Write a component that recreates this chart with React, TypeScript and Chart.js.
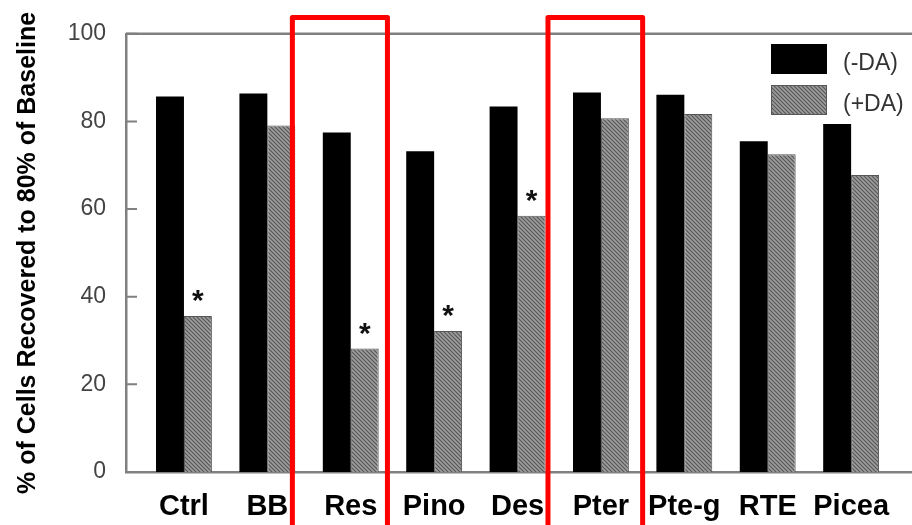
import React, { useEffect, useRef } from 'react';
import { Chart, registerables } from 'chart.js';

Chart.register(...registerables);

const categories = ['Ctrl', 'BB', 'Res', 'Pino', 'Des', 'Pter', 'Pte-g', 'RTE', 'Picea'];
const withoutDA = [85.7, 86.4, 77.5, 73.2, 83.4, 86.6, 86.1, 75.5, 79.4];
const withDA = [35.6, 79.1, 28.2, 32.2, 58.5, 80.7, 81.7, 72.5, 67.8];
const significant = [true, false, true, true, true, false, false, false, false];
const seriesLabels = ['(-DA)', '(+DA)'];
const yTickValues = [0, 20, 40, 60, 80, 100];
const yTitle = '% of Cells Recovered to 80% of Baseline';
// highlighted category spans, in x-axis (category index) units
const highlightSpans = [
  [1.3, 2.44],
  [4.365, 5.5],
];

const FONT = "'Liberation Sans', Arial, Helvetica, sans-serif";
const AXIS = '#808080';

function makeHatch(): CanvasPattern | string {
  const c = document.createElement('canvas');
  c.width = 4;
  c.height = 4;
  const g = c.getContext('2d');
  if (!g) return '#8c8c8c';
  g.fillStyle = '#9c9c9c';
  g.fillRect(0, 0, 4, 4);
  g.strokeStyle = '#555555';
  g.lineWidth = 1.1;
  g.beginPath();
  g.moveTo(0, 0);
  g.lineTo(4, 4);
  g.moveTo(-1, 3);
  g.lineTo(1, 5);
  g.moveTo(3, -1);
  g.lineTo(5, 1);
  g.stroke();
  const p = g.createPattern(c, 'repeat');
  return p || '#8c8c8c';
}

const overlayPlugin = {
  id: 'overlay',
  afterDraw(chart: any) {
    const { ctx, chartArea, scales } = chart;
    const xs = scales.x;
    const ys = scales.y;
    ctx.save();

    // top frame line
    ctx.strokeStyle = AXIS;
    ctx.lineWidth = 2.5;
    ctx.beginPath();
    ctx.moveTo(chartArea.left, chartArea.top);
    ctx.lineTo(chartArea.right, chartArea.top);
    ctx.stroke();

    // inward tick marks on y axis
    ctx.lineWidth = 2;
    ctx.beginPath();
    yTickValues.forEach((v) => {
      const py = ys.getPixelForValue(v);
      ctx.moveTo(chartArea.left, py);
      ctx.lineTo(chartArea.left + 11, py);
    });
    ctx.stroke();

    // significance stars
    const meta = chart.getDatasetMeta(1);
    ctx.fillStyle = '#111';
    ctx.font = `bold 30px ${FONT}`;
    ctx.textAlign = 'center';
    ctx.textBaseline = 'alphabetic';
    meta.data.forEach((bar: any, i: number) => {
      if (significant[i]) {
        ctx.fillText('*', bar.x, bar.y - 23 + 0.57 * 30);
      }
    });

    // legend
    const lx = chartArea.right - 141;
    const ds = chart.data.datasets;
    const rows = [44, 85];
    ds.forEach((d: any, i: number) => {
      const top = rows[i];
      ctx.fillStyle = d.backgroundColor;
      ctx.fillRect(lx, top, 56, 30);
      if (i === 1) {
        ctx.strokeStyle = '#555';
        ctx.lineWidth = 1;
        ctx.strokeRect(lx + 0.5, top + 0.5, 55, 29);
      }
      ctx.fillStyle = '#333';
      ctx.font = `23px ${FONT}`;
      ctx.textAlign = 'left';
      ctx.textBaseline = 'middle';
      ctx.fillText(d.label, lx + 72, top + 20);
    });

    // red highlight boxes
    ctx.strokeStyle = '#ff0000';
    ctx.lineWidth = 5;
    ctx.lineJoin = 'round';
    highlightSpans.forEach(([a, b]) => {
      const x1 = xs.getPixelForValue(a);
      const x2 = xs.getPixelForValue(b);
      ctx.strokeRect(x1, 17.5, x2 - x1, 600);
    });

    ctx.restore();
  },
};

export default function App() {
  const ref = useRef<HTMLCanvasElement | null>(null);

  useEffect(() => {
    document.body.style.margin = '0';
    const canvas = ref.current;
    if (!canvas) return;
    const hatch = makeHatch();
    const chart = new Chart(canvas, {
      type: 'bar',
      data: {
        datasets: [
          {
            label: seriesLabels[0],
            data: withoutDA.map((v, i) => ({ x: i, y: v })),
            backgroundColor: '#000000',
            borderWidth: 0,
            barPercentage: 1,
            categoryPercentage: 0.67,
          },
          {
            label: seriesLabels[1],
            data: withDA.map((v, i) => ({ x: i, y: v })),
            backgroundColor: hatch as any,
            borderColor: '#555555',
            borderWidth: 1,
            barPercentage: 1,
            categoryPercentage: 0.67,
          },
        ],
      },
      options: {
        animation: false,
        responsive: false,
        maintainAspectRatio: false,
        layout: { padding: { top: 33, right: 0, bottom: 0, left: 0 } },
        plugins: {
          legend: { display: false },
          tooltip: { enabled: false },
        },
        scales: {
          x: {
            type: 'linear',
            offset: false,
            min: -0.695,
            max: 8.73,
            grid: { display: false, drawTicks: false, offset: false },
            border: { display: true, color: AXIS, width: 2.5 },
            afterBuildTicks: (scale: any) => {
              scale.ticks = categories.map((_, i) => ({ value: i }));
            },
            afterFit: (scale: any) => {
              scale.height = 53;
            },
            ticks: {
              includeBounds: false,
              stepSize: 1,
              autoSkip: false,
              maxRotation: 0,
              padding: 18,
              color: '#000',
              font: { family: FONT, size: 29, weight: 'bold' },
              callback: (v: any) => categories[Math.round(Number(v))] ?? '',
            },
          },
          y: {
            min: 0,
            max: 100,
            afterFit: (scale: any) => {
              scale.width = 126;
            },
            grid: { display: false, drawTicks: false },
            border: { display: true, color: AXIS, width: 2.5 },
            ticks: {
              stepSize: 20,
              padding: 20,
              color: '#444',
              font: { family: FONT, size: 23 },
            },
            title: {
              display: true,
              text: yTitle,
              color: '#000',
              padding: { top: 13, bottom: 0 },
              font: { family: FONT, size: 25, weight: 'bold' },
            },
          },
        },
      } as any,
      plugins: [overlayPlugin],
    });
    return () => chart.destroy();
  }, []);

  return (
    <div style={{ position: 'fixed', left: 0, top: 0, width: 912, height: 525, background: '#fff' }}>
      <canvas ref={ref} width={912} height={525} style={{ display: 'block', width: 912, height: 525 }} />
    </div>
  );
}
